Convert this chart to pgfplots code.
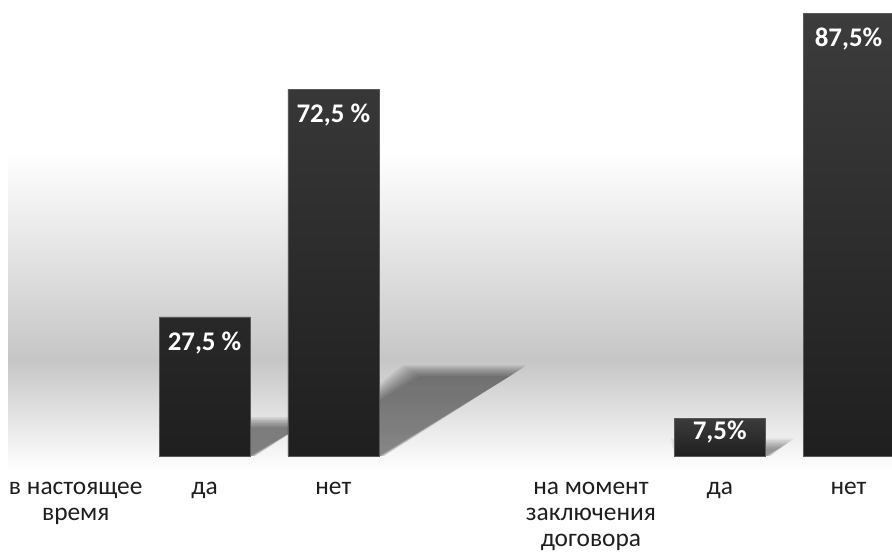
\documentclass[border=0pt]{standalone}
\usepackage{fontspec}
\setmainfont{Carlito}
\usepackage{pgfplots}
\pgfplotsset{compat=1.18}
\definecolor{bartop}{HTML}{3C3C3C}
\definecolor{barbot}{HTML}{1F1F1F}
\definecolor{bgdark}{HTML}{C6C6C6}
\definecolor{txt}{HTML}{1E1E1E}
\newcommand{\shlayer}[5]{% #1 x, #2 dx, #3 dy, #4 opacity, #5 k
    \fill[black, opacity=#4]
      (axis cs:{#1-0.353},0) -- (axis cs:{#1+0.353+0.006*#5},0)
      -- (axis cs:{#1+0.353+#2+0.018*#5},{#3+0.3*#5}) -- (axis cs:{#1-0.353+#2-0.018*#5},{#3+0.3*#5}) -- cycle;
}
\newcommand{\barshadow}[4]{%
  \shlayer{#1}{#2}{#3}{#4}{0}\shlayer{#1}{#2}{#3}{#4}{1}\shlayer{#1}{#2}{#3}{#4}{2}%
  \shlayer{#1}{#2}{#3}{#4}{3}\shlayer{#1}{#2}{#3}{#4}{4}\shlayer{#1}{#2}{#3}{#4}{5}%
  \shlayer{#1}{#2}{#3}{#4}{6}\shlayer{#1}{#2}{#3}{#4}{7}%
}
\begin{document}
\begin{tikzpicture}[x=1bp,y=1bp]
\useasboundingbox (0,-101) rectangle (892,456);
\begin{axis}[
  at={(0,0)}, anchor=south west,
  scale only axis,
  x=128.8bp, y=5.06bp,
  xmin=-0.588, xmax=6.338,
  ymin=0, ymax=90.1,
  clip=false,
  axis line style={draw=none},
  tick style={draw=none},
  ytick=\empty,
  xtick={0,1,2,4,5,6},
  xticklabels={{в настоящее\\время},да,нет,{на момент\\заключения\\договора},да,нет},
  xticklabel style={align=center, font=\fontsize{25.5}{26.5}\selectfont, text=txt, yshift=-18bp},
  ybar, bar width=91bp, bar shift=0pt,
  point meta=explicit symbolic,
  nodes near coords,
  nodes near coords style={font=\fontsize{27}{28}\selectfont\bfseries, text=white, anchor=north},
]
% background gradient band
\fill[top color=white, bottom color=bgdark, draw=none] (axis cs:-0.525,59.9) rectangle (axis cs:6.338,19.0);
\fill[top color=bgdark, bottom color=white, draw=none] (axis cs:-0.525,19.0) rectangle (axis cs:6.338,-2.8);
% shadows
\barshadow{1}{0.38}{5.6}{0.075}
\barshadow{2}{1.02}{15.8}{0.07}
\barshadow{5}{0.10}{1.4}{0.06}
% bars
\addplot[top color=bartop, bottom color=barbot, draw=gray!70!black, line width=0.6bp,
  every node near coord/.append style={yshift=-11bp}]
  coordinates {(1,27.5) [27,5 \%] (2,72.5) [72,5 \%] (6,87.5) [87,5\%]};
\addplot[top color=bartop, bottom color=barbot, draw=gray!70!black, line width=0.6bp,
  every node near coord/.append style={yshift=1bp}]
  coordinates {(5,7.5) [7,5\%]};
\end{axis}
\end{tikzpicture}
\end{document}
